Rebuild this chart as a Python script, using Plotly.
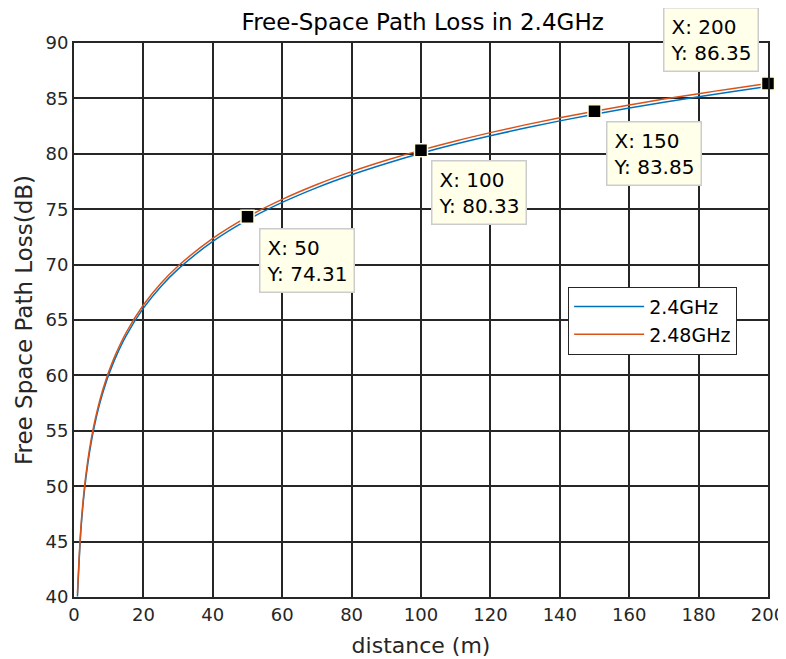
import plotly.graph_objects as go

# distances (m) and path loss (dB)
distance = [1, 2, 3, 4, 5, 6, 7, 8, 9, 10, 12, 15, 20, 25, 30, 40, 50, 60, 70, 80,
            90, 100, 110, 120, 130, 140, 150, 160, 170, 180, 190, 200]
loss_24 = [40.05, 46.07, 49.59, 52.09, 54.03, 55.61, 56.95, 58.11, 59.13, 60.05,
           61.63, 63.57, 66.07, 68.01, 69.59, 72.09, 74.03, 75.61, 76.95, 78.11,
           79.13, 80.05, 80.88, 81.63, 82.33, 82.97, 83.57, 84.13, 84.66, 85.15,
           85.62, 86.07]
loss_248 = [40.33, 46.35, 49.87, 52.37, 54.31, 55.89, 57.23, 58.39, 59.41, 60.33,
            61.91, 63.85, 66.35, 68.29, 69.87, 72.37, 74.31, 75.89, 77.23, 78.39,
            79.41, 80.33, 81.16, 81.91, 82.61, 83.25, 83.85, 84.41, 84.94, 85.43,
            85.90, 86.35]

tip_x = [50, 100, 150, 200]
tip_y = [74.31, 80.33, 83.85, 86.35]

x_ticks = [0, 20, 40, 60, 80, 100, 120, 140, 160, 180, 200]
x_labels = ["0", "20", "40", "60", "80", "100", "120", "140", "160", "180", "200"]
y_ticks = [40, 45, 50, 55, 60, 65, 70, 75, 80, 85, 90]

FONT = "DejaVu Sans"

fig = go.Figure()
fig.add_trace(go.Scatter(x=distance, y=loss_24, mode="lines", name="2.4GHz",
                         line=dict(color="#0072BD", width=1.5, shape="spline")))
fig.add_trace(go.Scatter(x=distance, y=loss_248, mode="lines", name="2.48GHz",
                         line=dict(color="#D95319", width=1.5, shape="spline")))
fig.add_trace(go.Scatter(x=tip_x, y=tip_y, mode="markers", showlegend=False,
                         cliponaxis=False,
                         marker=dict(symbol="square", size=13, color="black",
                                     line=dict(color="#FFFFE0", width=1.5))))

# data tip boxes: (xshift, yshift, xanchor, yanchor)
placements = [(11, -11, "left", "top"), (10, -10, "left", "top"),
              (11, -10, "left", "top"), (-9, 11, "right", "bottom")]
for (tx, ty), (dx, dy, xa, ya) in zip(zip(tip_x, tip_y), placements):
    fig.add_annotation(x=tx, y=ty, xref="x", yref="y",
                       text=f"X: {tx}<br>Y: {ty:.2f}", showarrow=False,
                       xanchor=xa, yanchor=ya, xshift=dx, yshift=dy, align="left",
                       bgcolor="#FFFFEA", bordercolor="#CCCCCC", borderwidth=1.5,
                       borderpad=6, font=dict(family=FONT, size=20, color="black"))

fig.update_layout(
    width=778, height=651,
    margin=dict(l=66, r=18, t=35, b=62),
    paper_bgcolor="white", plot_bgcolor="white",
    font=dict(family=FONT, size=18, color="#262626"),
    title=dict(text="Free-Space Path Loss in 2.4GHz", x=0.533, xanchor="center",
               y=0.978, yanchor="middle", font=dict(family=FONT, size=23, color="black")),
    legend=dict(x=0.712, y=0.56, xanchor="left", yanchor="top",
                bgcolor="white", bordercolor="#262626", borderwidth=1,
                font=dict(family=FONT, size=19, color="black"),
                tracegroupgap=0, itemwidth=70),
    showlegend=True,
)
fig.update_xaxes(range=[0, 200], tickvals=x_ticks, ticktext=x_labels, automargin=False,
                 showgrid=True, gridcolor="#262626", gridwidth=1.8,
                 showline=True, linecolor="#262626", linewidth=2, mirror=True,
                 ticks="", zeroline=False, tickfont=dict(size=18),
                 title=dict(text="distance (m)", font=dict(family=FONT, size=22), standoff=14))
fig.update_yaxes(range=[40, 90], tickvals=y_ticks, automargin=False,
                 showgrid=True, gridcolor="#262626", gridwidth=1.8,
                 showline=True, linecolor="#262626", linewidth=2, mirror=True,
                 ticks="", zeroline=False, tickfont=dict(size=18),
                 title=dict(text="Free Space Path Loss(dB)", font=dict(family=FONT, size=23), standoff=6))

fig.write_html("out.html")
